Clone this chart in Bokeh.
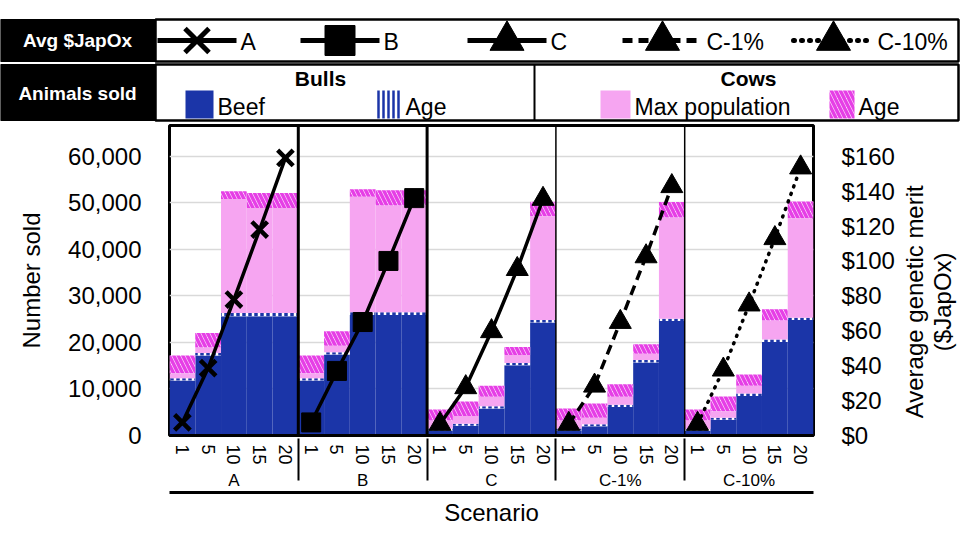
import math
from bokeh.plotting import figure
from bokeh.models import (FactorRange, Range1d, LinearAxis, CategoricalAxis, NumeralTickFormatter,
                          SingleIntervalTicker, Span, ColumnDataSource)
from bokeh.layouts import column, row
from bokeh.transform import stack
from bokeh.core.properties import value
from bokeh.embed import file_html
from bokeh.resources import INLINE

# ---------------- data ----------------
scenarios = ["A", "B", "C", "C-1%", "C-10%"]
levels = ["1", "5", "10", "15", "20"]

# Animals sold (number), per scenario, per level
bulls_beef = [[11800, 17200, 25600, 25600, 25600],
              [11800, 17400, 25900, 25900, 25900],
              [1100, 2100, 5800, 15100, 24300],
              [1100, 2000, 6100, 15700, 24600],
              [1000, 3400, 8500, 20100, 24800]]
bulls_age = [[500, 500, 700, 700, 700],
             [500, 500, 600, 600, 600],
             [400, 400, 500, 500, 500],
             [400, 400, 500, 500, 500],
             [400, 400, 500, 500, 500]]
cows_maxpop = [[1100, 1200, 24500, 22600, 22600],
               [1100, 1400, 24800, 22900, 22900],
               [1700, 1700, 2000, 1700, 22300],
               [1700, 1400, 1700, 1350, 21750],
               [1800, 1400, 1700, 4100, 21400]]
cows_age = [[3800, 3100, 1700, 3200, 3200],
            [3800, 3100, 1600, 3300, 3300],
            [2400, 3100, 2400, 1700, 3100],
            [2600, 3100, 2700, 2050, 3300],
            [2400, 3200, 2400, 2400, 3550]]

# Average genetic merit ($JapOx)
merit = [[7.5, 38.6, 77.9, 118, 159],
         [7.5, 37, 65, 100, 136],
         [6.6, 27.6, 59.7, 95.3, 135.5],
         [6.6, 28.5, 65, 102.6, 142.8],
         [6.6, 37.7, 75, 113, 153.5]]

markers = ["x", "square", "triangle", "triangle", "triangle"]
dashes = ["solid", "solid", "solid", "10 6", "1 7"]

BLUE = "#1b35a8"
PINK = "#f6a5f1"
MAG = "#e63fe6"
FONT = "Liberation Sans"

# ---------------- legend header ----------------
LGH = 122
lg = figure(width=960, height=LGH, x_range=Range1d(0, 960), y_range=Range1d(LGH, 0),
            output_backend="svg", toolbar_location=None, min_border=0,
            min_border_left=0, min_border_right=0, min_border_top=0, min_border_bottom=0,
            x_axis_location=None, y_axis_location=None)
lg.grid.visible = False
lg.outline_line_color = None

R1T, R1B, R2T, R2B = 19, 61, 64, 120
RY1 = (R1T + R1B) / 2
lg.quad(left=[155, 155], right=[958, 958], top=[R1T, R2T], bottom=[R1B, R2B],
        fill_color="white", line_color="black", line_width=2.5)
lg.quad(left=[0, 0], right=[155, 155], top=[R1T, R2T], bottom=[R1B, R2B],
        fill_color="black", line_color="black")
lg.segment(x0=[534], y0=[R2T], x1=[534], y1=[R2B], line_color="black", line_width=2)
lg.text(x=[77, 77], y=[RY1, 93], text=["Avg $JapOx", "Animals sold"], text_color="white",
        text_font=value(FONT), text_font_style="bold", text_font_size="19px",
        text_align="center", text_baseline="middle")

leg_x0 = [157, 300, 467, 622, 793]
leg_x1 = [236, 379, 546, 702, 873]
leg_sizes = [34, 30, 34, 34, 34]
for i, s in enumerate(scenarios):
    lg.line(x=[leg_x0[i], leg_x1[i]], y=[RY1, RY1], line_color="black", line_width=5,
            line_dash=dashes[i], line_cap="round" if i == 4 else "butt")
    lg.scatter(x=[(leg_x0[i] + leg_x1[i]) / 2], y=[RY1], marker=markers[i], size=leg_sizes[i],
               fill_color="black", line_color="black", line_width=5 if markers[i] == "x" else 1)
    lg.text(x=[leg_x1[i] + 4], y=[RY1 + 1], text=[s], text_font=value(FONT), text_font_size="23px",
            text_baseline="middle", text_color="black")

lg.text(x=[320, 748], y=[78, 78], text=["Bulls", "Cows"], text_font=value(FONT),
        text_font_style="bold", text_font_size="21px", text_align="center", text_baseline="middle")
sw_l = [185, 376, 600, 829]
sw_r = [213, 401, 630, 854]
sw_fill = [BLUE, "white", PINK, "white"]
sw_hatch = [" ", "|", " ", "\\"]
sw_hcol = [BLUE, BLUE, PINK, MAG]
sw_text = ["Beef", "Age", "Max population", "Age"]
for i in range(4):
    lg.quad(left=[sw_l[i]], right=[sw_r[i]], top=[90], bottom=[118], fill_color=sw_fill[i],
            line_color=None, hatch_pattern=sw_hatch[i], hatch_color=sw_hcol[i],
            hatch_scale=5 if i == 1 else 9, hatch_weight=2.5 if i == 1 else 3.5)
    lg.text(x=[sw_r[i] + 4], y=[106], text=[sw_text[i]], text_font=value(FONT),
            text_font_size="23px", text_baseline="middle")

# ---------------- main chart ----------------
factors = [(s, l) for s in scenarios for l in levels]
flat = lambda arr: [v for r in arr for v in r]
src = ColumnDataSource(dict(x=factors, beef=flat(bulls_beef), bage=flat(bulls_age),
                            cmax=flat(cows_maxpop), cage=flat(cows_age)))

MH = 528 - LGH
BT, BB = 3, 90
p = figure(x_range=FactorRange(*factors, factor_padding=0, group_padding=0, range_padding=0,
                               subgroup_padding=0),
           y_range=Range1d(0, 66600), width=900, height=MH,
           output_backend="svg", toolbar_location=None,
           min_border_left=169, min_border_right=87, min_border_top=BT, min_border_bottom=BB)
p.extra_y_ranges = {"merit": Range1d(0, 66600 / 375)}
p.extra_x_ranges = {"box": FactorRange(factors=[" "], range_padding=0)}

p.vbar(x="x", width=1, bottom=0, top=stack("beef"), source=src,
       fill_color=BLUE, line_color=None)
p.vbar(x="x", width=1, bottom=stack("beef"), top=stack("beef", "bage"), source=src,
       fill_color="white", line_color=None, hatch_pattern="|", hatch_color=BLUE,
       hatch_scale=6, hatch_weight=3.5)
p.vbar(x="x", width=1, bottom=stack("beef", "bage"), top=stack("beef", "bage", "cmax"),
       source=src, fill_color=PINK, line_color=None)
p.vbar(x="x", width=1, bottom=stack("beef", "bage", "cmax"),
       top=stack("beef", "bage", "cmax", "cage"), source=src,
       fill_color="white", line_color=None, hatch_pattern="\\", hatch_color=MAG,
       hatch_scale=9, hatch_weight=3.5)

for i, s in enumerate(scenarios):
    xs = [(s, l) for l in levels]
    p.line(x=xs, y=merit[i], y_range_name="merit", line_color="black", line_width=3.5,
           line_dash=dashes[i], line_cap="round" if i == 4 else "butt")
    p.scatter(x=xs, y=merit[i], y_range_name="merit", marker=markers[i],
              size=22 if markers[i] != "square" else 19,
              fill_color="black", line_color="black",
              line_width=4.5 if markers[i] == "x" else 1)

# group separators
for loc, w in zip([5, 10, 15, 20], [3, 3, 1.5, 1.5]):
    p.add_layout(Span(location=loc, dimension="height", line_color="black", line_width=w))

p.xgrid.grid_line_color = None
p.ygrid.grid_line_color = "#d9d9d9"
p.ygrid.grid_line_width = 1.5
p.outline_line_color = "black"
p.outline_line_width = 3
p.outline_line_alpha = 1

p.yaxis.ticker = SingleIntervalTicker(interval=10000)
p.yaxis.formatter = NumeralTickFormatter(format="0,0")
p.yaxis.axis_label = "Number sold"

ra = LinearAxis(y_range_name="merit", ticker=SingleIntervalTicker(interval=20),
                formatter=NumeralTickFormatter(format="$0"))
p.add_layout(ra, "right")

for ax in [p.yaxis[0], ra]:
    ax.axis_line_color = None
    ax.major_tick_line_color = None
    ax.minor_tick_line_color = None
    ax.major_label_text_font = FONT
    ax.major_label_text_font_size = "24px"
    ax.major_label_text_color = "black"
    ax.axis_label_text_font = FONT
    ax.axis_label_text_font_size = "24px"
    ax.axis_label_text_font_style = "normal"
    ax.axis_label_text_color = "black"
p.yaxis[0].major_label_standoff = 22
p.yaxis[0].axis_label_standoff = 20
ra.major_label_standoff = 22

xa = p.xaxis[0]
xa.axis_line_color = "black"
xa.axis_line_width = 3
xa.major_tick_line_color = None
xa.minor_tick_line_color = None
xa.major_label_orientation = "vertical"
xa.major_label_standoff = 3
xa.major_label_text_font = FONT
xa.major_label_text_font_size = "18px"
xa.major_label_text_color = "black"
xa.group_text_font = FONT
xa.group_text_font_size = "17px"
xa.group_text_font_style = "normal"
xa.group_text_color = "black"
xa.separator_line_color = "black"
xa.separator_line_width = 2

# bottom box line of the category axis area + axis title
xb = CategoricalAxis(x_range_name="box", axis_label="Scenario")
xb.axis_line_color = "black"
xb.axis_line_width = 3
xb.major_tick_line_color = None
xb.minor_tick_line_color = None
xb.major_label_text_font_size = "0px"
xb.major_label_standoff = 0
xb.axis_label_standoff = 0
xb.axis_label_text_font = FONT
xb.axis_label_text_font_size = "24px"
xb.axis_label_text_font_style = "normal"
xb.axis_label_text_color = "black"
p.add_layout(xb, "below")

# right-hand axis title (reads bottom to top, two lines)
rl = figure(width=60, height=MH, x_range=Range1d(900, 960), y_range=Range1d(MH - BT - BB, 0),
            output_backend="svg", toolbar_location=None,
            min_border_left=0, min_border_right=0, min_border_top=BT, min_border_bottom=BB,
            x_axis_location=None, y_axis_location=None)
rl.grid.visible = False
rl.outline_line_color = None
rl.text(x=[914, 942], y=[178, 178], text=["Average genetic merit", "($JapOx)"],
        angle=math.pi / 2, text_font=value(FONT), text_font_size="24px",
        text_align="center", text_baseline="middle", text_color="black")

layout = column(row(lg), row(p, rl, spacing=0), spacing=0)
open("out.html", "w").write(file_html(layout, INLINE))
